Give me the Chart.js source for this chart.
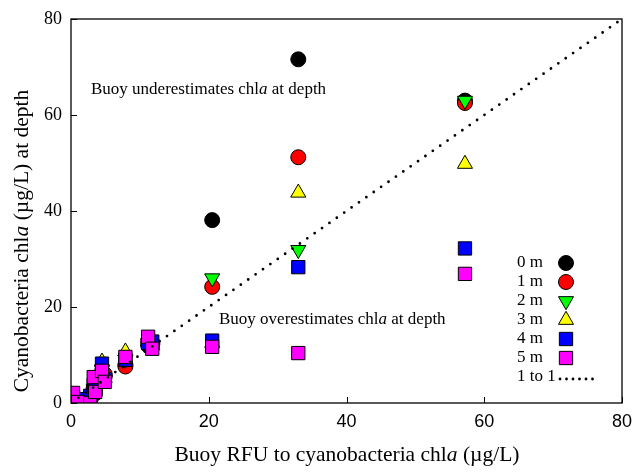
<!DOCTYPE html>
<html><head><meta charset="utf-8">
<script src="https://cdn.jsdelivr.net/npm/chart.js@4/dist/chart.umd.min.js"></script>
<style>html,body{margin:0;padding:0;background:#fff}#wrap{width:633px;height:472px;position:relative}</style>
</head><body><div id="wrap"><canvas id="c"></canvas></div>
<script>
// ---- data ----
const xValues = [0.3, 1.0, 2.8, 3.3, 3.5, 4.5, 4.9, 7.9, 11.2, 11.8, 20.5, 33.0, 57.2];
const depth0m = [0.6, 0.4, 0.8, 2.8, 2.0, 6.0, 5.5, 8.0, 12.0, 12.2, 38.1, 71.6, 63.0];
const depth1m = [0.9, 0.7, 1.2, 3.2, 2.6, 6.5, 6.0, 7.6, 12.8, 12.4, 24.2, 51.2, 62.5];
const depth2m = [0.8, 0.5, 1.0, 3.0, 2.5, 7.0, 4.8, 9.0, 12.5, 12.2, 26.0, 31.9, 63.0];
const depth3m = [1.0, 0.6, 1.2, 3.5, 2.8, 8.6, 5.2, 10.7, 12.8, 12.0, 12.5, 43.8, 49.8];
const depth4m = [1.2, 0.8, 1.5, 3.8, 3.0, 8.2, 5.0, 9.0, 12.5, 12.8, 13.0, 28.3, 32.2];
const depth5m = [2.1, 0.2, 0.0, 5.4, 2.3, 6.7, 4.4, 9.6, 13.8, 11.3, 11.7, 10.4, 26.9];
const seriesLabels = ['0 m', '1 m', '2 m', '3 m', '4 m', '5 m'];
const lineLabel = '1 to 1';
const oneToOneX = [0, 80];
const oneToOneY = [0, 80];
const axisTicks = [0, 20, 40, 60, 80];

const seriesValues = [depth0m, depth1m, depth2m, depth3m, depth4m, depth5m];
const seriesColors = ['#000000', '#ff0000', '#00ff00', '#ffff00', '#0000ff', '#ff00ff'];
const seriesStyles = [
  {pointStyle: 'circle', radius: 7.5, rotation: 0},
  {pointStyle: 'circle', radius: 7.5, rotation: 0},
  {pointStyle: 'triangle', radius: 8.7, rotation: 180},
  {pointStyle: 'triangle', radius: 8.7, rotation: 0},
  {pointStyle: 'rect', radius: 9.4, rotation: 0},
  {pointStyle: 'rect', radius: 9.4, rotation: 0}
];

const datasets = seriesValues.map((ys, i) => ({
  label: seriesLabels[i],
  data: xValues.map((x, j) => ({x: x, y: ys[j]})),
  backgroundColor: seriesColors[i],
  borderColor: '#000',
  borderWidth: 1,
  pointStyle: seriesStyles[i].pointStyle,
  pointRadius: seriesStyles[i].radius,
  pointHoverRadius: seriesStyles[i].radius,
  rotation: seriesStyles[i].rotation,
  showLine: false,
  order: 6 - i
}));
datasets.push({
  type: 'line',
  label: lineLabel,
  data: oneToOneX.map((x, j) => ({x: x, y: oneToOneY[j]})),
  borderColor: '#000',
  borderWidth: 2.8,
  borderDash: [0, 9],
  borderCapStyle: 'round',
  pointRadius: 0,
  fill: false,
  order: 0
});

const SERIF = '"Liberation Serif", "Times New Roman", serif';
const SANS = '"Liberation Sans", Arial, sans-serif';

function drawMixed(ctx, parts, x, y, size, align) {
  let total = 0;
  const widths = parts.map(p => { ctx.font = (p[1] ? 'italic ' : '') + size + 'px ' + SERIF; const w = ctx.measureText(p[0]).width; total += w; return w; });
  let cx = align === 'center' ? x - total / 2 : x;
  ctx.textAlign = 'left';
  ctx.textBaseline = 'middle';
  parts.forEach((p, i) => { ctx.font = (p[1] ? 'italic ' : '') + size + 'px ' + SERIF; ctx.fillText(p[0], cx, y); cx += widths[i]; });
}

function drawMarker(ctx, style, color, x, y) {
  ctx.save();
  ctx.fillStyle = color; ctx.strokeStyle = '#000'; ctx.lineWidth = 1;
  ctx.beginPath();
  const r = style.radius;
  if (style.pointStyle === 'circle') {
    ctx.arc(x, y, r, 0, Math.PI * 2);
  } else if (style.pointStyle === 'rect') {
    const s = Math.SQRT1_2 * r;
    ctx.rect(x - s, y - s, 2 * s, 2 * s);
  } else {
    const dir = style.rotation === 180 ? -1 : 1;
    const w = r * Math.sin(Math.PI / 3);
    ctx.moveTo(x, y - dir * r);
    ctx.lineTo(x + w, y + dir * r / 2);
    ctx.lineTo(x - w, y + dir * r / 2);
    ctx.closePath();
  }
  ctx.fill(); ctx.stroke();
  ctx.restore();
}

const decorPlugin = {
  id: 'decor',
  afterDatasetsDraw(chart) {
    const ctx = chart.ctx;
    const a = chart.chartArea;
    const xs = chart.scales.x, ys = chart.scales.y;
    ctx.save();
    ctx.strokeStyle = '#000'; ctx.lineWidth = 1.3;
    ctx.strokeRect(a.left, a.top, a.right - a.left, a.bottom - a.top);
    ctx.lineWidth = 1;
    xs.ticks.forEach(t => { const px = Math.round(xs.getPixelForValue(t.value)) + 0.5; ctx.beginPath(); ctx.moveTo(px, a.bottom); ctx.lineTo(px, a.bottom - 6); ctx.stroke(); });
    ys.ticks.forEach(t => { const py = Math.round(ys.getPixelForValue(t.value)) + 0.5; ctx.beginPath(); ctx.moveTo(a.left, py); ctx.lineTo(a.left + 6, py); ctx.stroke(); });
    ctx.fillStyle = '#000';
    drawMixed(ctx, [['Buoy underestimates chl', false], ['a', true], [' at depth', false]], a.left + 20, a.top + 71, 17, 'left');
    drawMixed(ctx, [['Buoy overestimates chl', false], ['a', true], [' at depth', false]], a.left + 148, a.top + 301, 17, 'left');
    seriesLabels.forEach((lab, i) => {
      const y = 263 + i * 19;
      ctx.fillStyle = '#000';
      drawMixed(ctx, [[lab, false]], 517, y, 17, 'left');
      drawMarker(ctx, seriesStyles[i], seriesColors[i], 566, y);
    });
    const ly = 263 + 6 * 19;
    ctx.fillStyle = '#000';
    drawMixed(ctx, [[lineLabel, false]], 517, ly, 17, 'left');
    ctx.beginPath(); ctx.strokeStyle = '#000'; ctx.lineWidth = 2.8; ctx.lineCap = 'round'; ctx.setLineDash([0, 6.5]);
    ctx.moveTo(560, ly + 2); ctx.lineTo(596, ly + 2); ctx.stroke();
    ctx.setLineDash([]);
    ctx.fillStyle = '#000';
    drawMixed(ctx, [['Buoy RFU to cyanobacteria chl', false], ['a', true], [' (\u00b5g/L)', false]], 347, 455, 21.5, 'center');
    ctx.translate(22, 241); ctx.rotate(-Math.PI / 2);
    drawMixed(ctx, [['Cyanobacteria chl', false], ['a', true], [' (\u00b5g/L) at depth', false]], 0, 0, 21.5, 'center');
    ctx.restore();
  }
};

new Chart(document.getElementById('c'), {
  type: 'scatter',
  data: {datasets: datasets},
  options: {
    responsive: true,
    maintainAspectRatio: false,
    animation: false,
    layout: {padding: {left: 0, top: 19, right: 11, bottom: 0}},
    plugins: {legend: {display: false}, tooltip: {enabled: false}},
    scales: {
      x: {
        type: 'linear', min: 0, max: 80,
        afterBuildTicks(s) { s.ticks = axisTicks.map(v => ({value: v})); },
        ticks: {font: {family: SANS, size: 18}, color: '#000', padding: 8, maxRotation: 0},
        grid: {display: false, drawTicks: false},
        border: {display: false},
        afterFit(s) { s.height = 69; s.paddingLeft = 0; s.paddingRight = 0; }
      },
      y: {
        type: 'linear', min: 0, max: 80,
        afterBuildTicks(s) { s.ticks = axisTicks.map(v => ({value: v})); },
        ticks: {font: {family: SERIF, size: 18}, color: '#000', padding: 9},
        grid: {display: false, drawTicks: false},
        border: {display: false},
        afterFit(s) { s.width = 71; s.paddingTop = 0; s.paddingBottom = 0; }
      }
    }
  },
  plugins: [decorPlugin]
});
</script>
</body></html>
